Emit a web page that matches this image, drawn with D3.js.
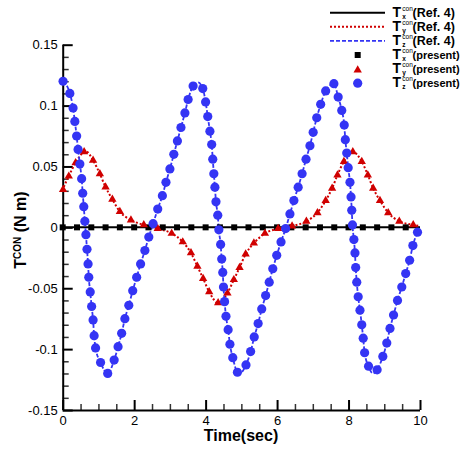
<!DOCTYPE html>
<html>
<head>
<meta charset="utf-8">
<script src="https://cdn.jsdelivr.net/npm/d3@7"></script>
<style>
  html, body { margin: 0; padding: 0; background: #fff; }
  svg { display: block; font-family: "Liberation Sans", Arial, Helvetica, sans-serif; }
</style>
</head>
<body>
<svg id="chart" width="462" height="449"></svg>
<script>
// ---- present results (symbols) ----
const txTime = [0, 0.4, 0.8, 1.2, 1.6, 2.0, 2.4, 2.8, 3.2, 3.6, 4.0, 4.4, 4.8, 5.2, 5.6, 6.0,
                6.4, 6.8, 7.2, 7.6, 8.0, 8.4, 8.8, 9.2, 9.6];
const txValues = [0, 0, 0, 0, 0, 0, 0, 0, 0, 0, 0, 0, 0, 0, 0, 0, 0, 0, 0, 0, 0, 0, 0, 0, 0];

const tyTime = [0.01, 0.17, 0.36, 0.60, 0.85, 1.04, 1.20, 1.39, 1.60, 1.91, 2.27, 2.66, 3.05, 3.36,
                3.59, 3.77, 3.93, 4.10, 4.35, 4.61, 4.79, 4.95, 5.12, 5.35, 5.66, 6.03, 6.42, 6.82,
                7.13, 7.36, 7.54, 7.69, 7.87, 8.12, 8.37, 8.54, 8.69, 8.88, 9.11, 9.42, 9.81];
const tyValues = [0.031, 0.042, 0.053, 0.062, 0.055, 0.044, 0.033, 0.023, 0.013, 0.006, 0.002, -0.001,
                  -0.005, -0.012, -0.021, -0.032, -0.042, -0.053, -0.062, -0.054, -0.043, -0.033,
                  -0.022, -0.013, -0.005, -0.001, 0.001, 0.005, 0.012, 0.022, 0.032, 0.043, 0.054,
                  0.062, 0.054, 0.043, 0.032, 0.022, 0.012, 0.005, 0.002];

const tzTime = [0.01, 0.20, 0.29, 0.34, 0.39, 0.43, 0.48, 0.53, 0.56, 0.59, 0.62, 0.65, 0.68, 0.71,
                0.73, 0.77, 0.81, 0.85, 0.88, 0.92, 1.06, 1.26, 1.44, 1.55, 1.65, 1.74, 1.85, 1.96,
                2.07, 2.18, 2.30, 2.41, 2.53, 2.66, 2.79, 2.89, 3.00, 3.11, 3.21, 3.31, 3.42, 3.51,
                3.65, 3.92, 4.00, 4.06, 4.12, 4.17, 4.20, 4.23, 4.26, 4.29, 4.34, 4.37, 4.42, 4.45,
                4.48, 4.50, 4.53, 4.57, 4.63, 4.68, 4.76, 4.89, 5.13, 5.26, 5.36, 5.47, 5.57, 5.68,
                5.78, 5.88, 5.99, 6.11, 6.24, 6.36, 6.47, 6.59, 6.70, 6.81, 6.92, 7.01, 7.11, 7.22,
                7.36, 7.59, 7.71, 7.81, 7.88, 7.91, 7.95, 7.99, 8.04, 8.07, 8.09, 8.11, 8.15, 8.18,
                8.20, 8.23, 8.27, 8.32, 8.37, 8.41, 8.45, 8.56, 8.80, 8.96, 9.07, 9.16, 9.26, 9.37,
                9.49, 9.60, 9.71, 9.80, 9.93];
const tzValues = [0.120, 0.110, 0.098, 0.087, 0.075, 0.064, 0.052, 0.040, 0.028, 0.017, 0.005, -0.006,
                  -0.018, -0.030, -0.041, -0.053, -0.065, -0.076, -0.089, -0.099, -0.111, -0.120,
                  -0.109, -0.098, -0.087, -0.075, -0.064, -0.052, -0.041, -0.030, -0.019, -0.008,
                  0.003, 0.015, 0.026, 0.037, 0.048, 0.060, 0.071, 0.082, 0.094, 0.105, 0.116, 0.114,
                  0.103, 0.091, 0.079, 0.068, 0.056, 0.044, 0.033, 0.021, 0.010, -0.002, -0.014,
                  -0.026, -0.037, -0.049, -0.061, -0.073, -0.084, -0.096, -0.107, -0.119, -0.113,
                  -0.102, -0.090, -0.079, -0.067, -0.056, -0.045, -0.034, -0.023, -0.012, -0.001,
                  0.011, 0.022, 0.033, 0.044, 0.056, 0.067, 0.078, 0.090, 0.101, 0.112, 0.118, 0.107,
                  0.096, 0.084, 0.072, 0.061, 0.049, 0.037, 0.025, 0.014, 0.002, -0.010, -0.021,
                  -0.033, -0.045, -0.057, -0.068, -0.080, -0.091, -0.103, -0.114, -0.117, -0.106,
                  -0.095, -0.083, -0.072, -0.060, -0.049, -0.038, -0.027, -0.015, -0.004];

// ---- Ref. 4 curves: pass through the same histories, plus their turning points ----
const refTxTime = [0, 10];
const refTxValues = [0, 0];
const refTyExtraTime = [0, 0.65, 10];
const refTyExtraValues = [0.030, 0.0625, 0.001];
const refTzExtraTime = [3.79, 4.95, 8.68];
const refTzExtraValues = [0.119, -0.120, -0.120];

// ---- axes ----
const xTickValues = [0, 2, 4, 6, 8, 10];
const yTickValues = [-0.15, -0.1, -0.05, 0, 0.05, 0.1, 0.15];
const yTickLabels = ["-0.15", "-0.1", "-0.05", "0", "0.05", "0.1", "0.15"];

const legendLabels = ["(Ref. 4)", "(Ref. 4)", "(Ref. 4)", "(present)", "(present)", "(present)"];
const legendSubs = ["x", "y", "z", "x", "y", "z"];

const BLUE = "#3434f4";
const RED = "#d00000";

const svg = d3.select("#chart");
const x = d3.scaleLinear().domain([0, 10]).range([62.7, 420]);
const y = d3.scaleLinear().domain([-0.15, 0.15]).range([410, 44.7]);

const zip = (ts, vs) => ts.map((t, i) => ({ t, v: vs[i] }));
const merged = (ts, vs, et, ev) => zip(ts, vs).concat(zip(et, ev)).sort((a, b) => a.t - b.t);

// minor ticks
const xMinor = d3.range(0, 10.001, 0.5).filter(d => Math.abs(d / 2 - Math.round(d / 2)) > 1e-6);
const yMinor = d3.range(-15, 15.5, 1).map(d => d / 100).filter(d => Math.abs(d * 20 - Math.round(d * 20)) > 1e-6);

const gxMinor = svg.append("g").attr("transform", `translate(0,${y(-0.15)})`)
  .call(d3.axisBottom(x).tickValues(xMinor).tickSize(-6).tickFormat(""));
const gyMinor = svg.append("g").attr("transform", `translate(${x(0)},0)`)
  .call(d3.axisLeft(y).tickValues(yMinor).tickSize(-6).tickFormat(""));
[gxMinor, gyMinor].forEach(g => {
  g.select(".domain").remove();
  g.selectAll(".tick line").attr("stroke", "#333").attr("stroke-width", 1.5);
});

const gx = svg.append("g").attr("transform", `translate(0,${y(-0.15)})`)
  .call(d3.axisBottom(x).tickValues(xTickValues).tickSize(-10).tickPadding(6).tickFormat(d3.format("d")));
const gy = svg.append("g").attr("transform", `translate(${x(0)},0)`)
  .call(d3.axisLeft(y).tickValues(yTickValues).tickSize(-10).tickPadding(5)
    .tickFormat((d, i) => yTickLabels[i]));
[gx, gy].forEach(g => {
  g.select(".domain").attr("stroke", "#000").attr("stroke-width", 2);
  g.selectAll(".tick line").attr("stroke", "#000").attr("stroke-width", 2);
  g.selectAll(".tick text").attr("fill", "#000").attr("font-size", 13)
    .attr("font-family", "'Liberation Sans', Arial, sans-serif");
});
gx.select(".domain").attr("d", `M${x(0)},0.5H${x(10)}`);
gy.select(".domain").attr("d", `M0.5,${y(-0.15)}V${y(0.15)}`);

// axis titles
svg.append("text").attr("x", 241).attr("y", 441).attr("text-anchor", "middle")
  .attr("font-size", 16).attr("font-weight", "bold").text("Time(sec)");

const yTitle = svg.append("text").attr("transform", "translate(26,230) rotate(-90)")
  .attr("text-anchor", "middle").attr("font-weight", "bold").attr("font-size", 16);
yTitle.append("tspan").text("T");
yTitle.append("tspan").attr("font-size", 10).attr("dy", -5).text("CON");
yTitle.append("tspan").attr("dy", 5).text(" (N m)");

// ---- reference curves ----
const line = d3.line().x(d => x(d.t)).y(d => y(d.v)).curve(d3.curveMonotoneX);

svg.append("path").datum(zip(refTxTime, refTxValues)).attr("d", line)
  .attr("fill", "none").attr("stroke", "#000").attr("stroke-width", 2);
svg.append("path").datum(merged(tyTime, tyValues, refTyExtraTime, refTyExtraValues)).attr("d", line)
  .attr("fill", "none").attr("stroke", RED).attr("stroke-width", 2).attr("stroke-dasharray", "2,2");
svg.append("path").datum(merged(tzTime, tzValues, refTzExtraTime, refTzExtraValues)).attr("d", line)
  .attr("fill", "none").attr("stroke", BLUE).attr("stroke-width", 1.8).attr("stroke-dasharray", "4,2");

// ---- present symbols ----
const square = d3.symbol().type(d3.symbolSquare).size(36);
const triangle = d3.symbol().type(d3.symbolTriangle).size(30);

svg.append("g").selectAll("path").data(zip(txTime, txValues)).join("path")
  .attr("d", square).attr("transform", d => `translate(${x(d.t)},${y(d.v)})`).attr("fill", "#000");
svg.append("g").selectAll("path").data(zip(tyTime, tyValues)).join("path")
  .attr("d", triangle).attr("transform", d => `translate(${x(d.t)},${y(d.v)})`).attr("fill", RED);
svg.append("g").selectAll("circle").data(zip(tzTime, tzValues)).join("circle")
  .attr("cx", d => x(d.t)).attr("cy", d => y(d.v)).attr("r", 4.6).attr("fill", BLUE);

// ---- legend ----
const legend = svg.append("g");
const rowBase = i => 16.7 + 14.1 * i;
const lineStyles = [
  { stroke: "#000", dash: null, w: 2 },
  { stroke: RED, dash: "2,2", w: 2 },
  { stroke: BLUE, dash: "4,2", w: 1.8 }
];
lineStyles.forEach((s, i) => {
  legend.append("line").attr("x1", 330).attr("x2", 385)
    .attr("y1", rowBase(i) - 4).attr("y2", rowBase(i) - 4)
    .attr("stroke", s.stroke).attr("stroke-width", s.w).attr("stroke-dasharray", s.dash);
});
legend.append("path").attr("d", square).attr("transform", `translate(357.7,${rowBase(3) - 4})`).attr("fill", "#000");
legend.append("path").attr("d", triangle).attr("transform", `translate(357.7,${rowBase(4) - 3})`).attr("fill", RED);
legend.append("circle").attr("cx", 357.7).attr("cy", rowBase(5) - 4).attr("r", 4.6).attr("fill", BLUE);

legendLabels.forEach((lab, i) => {
  const b = rowBase(i);
  const ref = i < 3;
  legend.append("text").attr("x", 392.5).attr("y", b).attr("font-size", 14).attr("font-weight", "bold").text("T");
  legend.append("text").attr("x", 402.3).attr("y", b - 6).attr("font-size", 6.5).text("con");
  legend.append("text").attr("x", 402.3).attr("y", b + 2).attr("font-size", 6.5).attr("font-weight", "bold").text(legendSubs[i]);
  legend.append("text").attr("x", 412.5).attr("y", b)
    .attr("font-size", ref ? 12.5 : 11).attr("font-weight", "bold").text(lab);
});
</script>
</body>
</html>
